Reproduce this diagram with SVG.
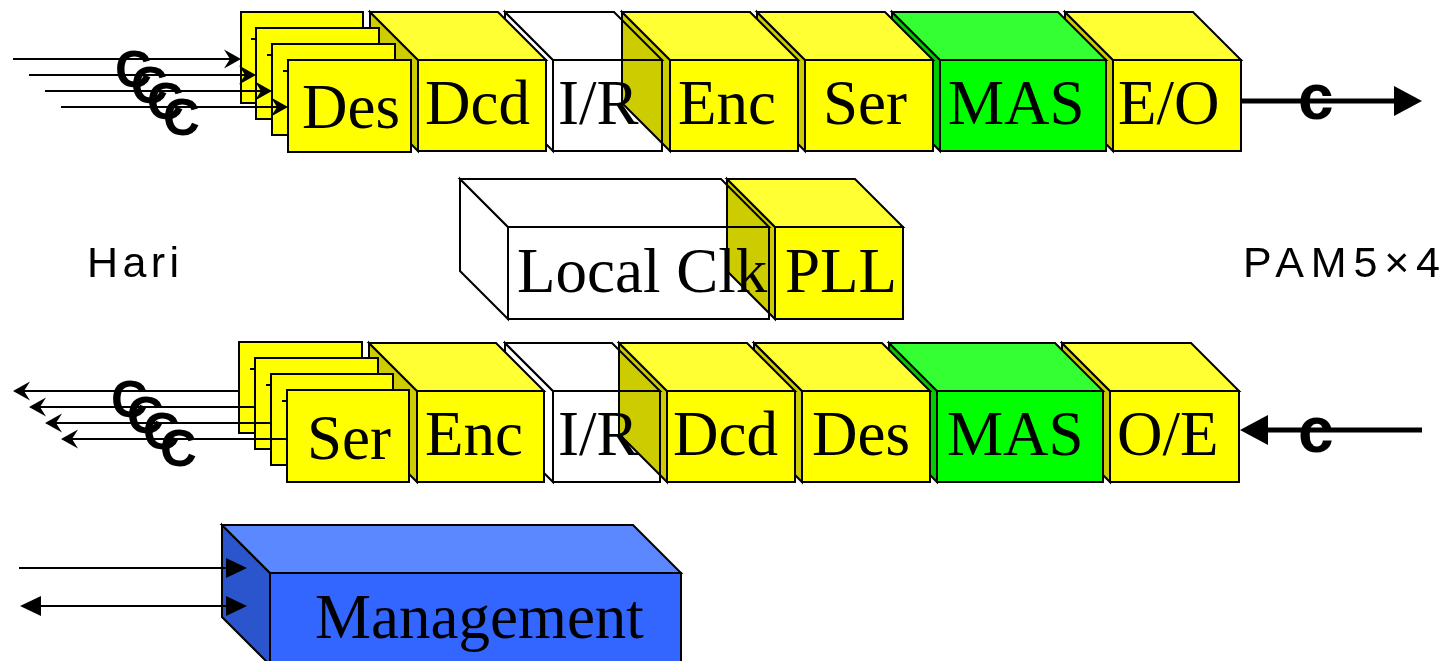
<svg xmlns="http://www.w3.org/2000/svg" width="1446" height="661" viewBox="0 0 1446 661">
  <style>
    .edge { stroke: #000; stroke-width: 2; stroke-linejoin: miter; }
    .yf { fill: #ffff00; }
    .yt { fill: #ffff33; }
    .ys { fill: #cccc00; }
    .gf { fill: #00ff00; }
    .gt { fill: #33ff33; }
    .gs { fill: #00cc00; }
    .wf { fill: #ffffff; }
    .bf { fill: #3366ff; }
    .bt { fill: #5b87ff; }
    .bs { fill: #2b55cc; }
    .through { mix-blend-mode: multiply; }
    .lbl { font-family: "Liberation Serif", "Times New Roman", serif; font-size: 63px; fill: #000; }
    .sig { font-family: "Liberation Sans", Arial, sans-serif; font-weight: bold; fill: #000; }
    .side { font-family: "Liberation Sans", Arial, sans-serif; font-size: 43px; fill: #000; }
    .thin { stroke: #000; stroke-width: 2; fill: none; }
    .thick { stroke: #000; stroke-width: 5; fill: none; }
  </style>
  <defs>
    <marker id="stealth" markerUnits="userSpaceOnUse" markerWidth="40" markerHeight="40" refX="0" refY="0" viewBox="-20 -20 40 40" orient="auto" overflow="visible">
      <path d="M11,0 L-6,-9.5 L0,0 L-6,9.5 Z" fill="#000"/>
    </marker>
    <marker id="tri" markerUnits="userSpaceOnUse" markerWidth="40" markerHeight="40" refX="0" refY="0" viewBox="-20 -20 40 40" orient="auto-start-reverse" overflow="visible">
      <path d="M21,0 L0,-10 L0,10 Z" fill="#000"/>
    </marker>
    <marker id="bigtri" markerUnits="userSpaceOnUse" markerWidth="60" markerHeight="60" refX="0" refY="0" viewBox="-30 -30 60 60" orient="auto" overflow="visible">
      <path d="M28,0 L0,-15 L0,15 Z" fill="#000"/>
    </marker>
  </defs>

  <rect x="0" y="0" width="1446" height="661" fill="#ffffff"/>

  <!-- transmit path (upper row), drawn right to left so each block overlaps its right neighbour -->
  <g id="tx-eo">
    <polygon class="edge ys" points="1065,12 1113,60 1113,151 1065,103"/>
    <polygon class="edge yt" points="1065,12 1193,12 1241,60 1113,60"/>
    <rect class="edge yf" x="1113" y="60" width="128" height="91"/>
    <text class="lbl" x="1118" y="124">E/O</text>
  </g>
  <g id="tx-mas">
    <polygon class="edge gs" points="892,12 940,60 940,151 892,103"/>
    <polygon class="edge gt" points="892,12 1058,12 1106,60 940,60"/>
    <rect class="edge gf" x="940" y="60" width="166" height="91"/>
    <text class="lbl" x="948" y="124">MAS</text>
  </g>
  <g id="tx-ser">
    <polygon class="edge ys" points="757,12 805,60 805,151 757,103"/>
    <polygon class="edge yt" points="757,12 885,12 933,60 805,60"/>
    <rect class="edge yf" x="805" y="60" width="128" height="91"/>
    <text class="lbl" x="823" y="124">Ser</text>
  </g>
  <g id="tx-ir">
    <polygon class="edge wf" points="505,12 553,60 553,151 505,103"/>
    <polygon class="edge wf" points="505,12 614,12 662,60 553,60"/>
    <rect class="edge wf" x="553" y="60" width="109" height="91"/>
    <text class="lbl" x="558" y="124">I/R</text>
  </g>
  <g id="tx-enc">
    <polygon class="edge ys through" points="622,12 670,60 670,151 622,103"/>
    <polygon class="edge yt" points="622,12 750,12 798,60 670,60"/>
    <rect class="edge yf" x="670" y="60" width="128" height="91"/>
    <text class="lbl" x="678" y="124">Enc</text>
  </g>
  <g id="tx-dcd">
    <polygon class="edge ys" points="370,12 418,60 418,151 370,103"/>
    <polygon class="edge yt" points="370,12 498,12 546,60 418,60"/>
    <rect class="edge yf" x="418" y="60" width="128" height="91"/>
    <text class="lbl" x="425" y="124">Dcd</text>
  </g>
  <g id="tx-des">
    <rect class="edge yf" x="241" y="12" width="122" height="91"/>
    <rect class="edge yf" x="256" y="28" width="123" height="91"/>
    <rect class="edge yf" x="272" y="44" width="123" height="91"/>
    <rect class="edge yf" x="288" y="60" width="123" height="92"/>
    <path class="thin" d="M251,39 H257 M267,55 H273 M283,71 H289"/>
    <text class="lbl" x="302" y="128">Des</text>
  </g>

  <!-- clocking -->
  <g id="local-clk">
    <polygon class="edge wf" points="460,179 508,227 508,319 460,271"/>
    <polygon class="edge wf" points="460,179 721,179 769,227 508,227"/>
    <rect class="edge wf" x="508" y="227" width="261" height="92"/>
    <text class="lbl" x="517" y="292">Local Clk</text>
  </g>
  <g id="pll">
    <polygon class="edge ys through" points="727,179 775,227 775,319 727,271"/>
    <polygon class="edge yt" points="727,179 855,179 903,227 775,227"/>
    <rect class="edge yf" x="775" y="227" width="128" height="92"/>
    <text class="lbl" x="785" y="292">PLL</text>
  </g>

  <!-- receive path (lower row) -->
  <g id="rx-oe">
    <polygon class="edge ys" points="1062,343 1110,391 1110,482 1062,434"/>
    <polygon class="edge yt" points="1062,343 1191,343 1239,391 1110,391"/>
    <rect class="edge yf" x="1110" y="391" width="129" height="91"/>
    <text class="lbl" x="1117" y="455">O/E</text>
  </g>
  <g id="rx-mas">
    <polygon class="edge gs" points="889,343 937,391 937,482 889,434"/>
    <polygon class="edge gt" points="889,343 1055,343 1103,391 937,391"/>
    <rect class="edge gf" x="937" y="391" width="166" height="91"/>
    <text class="lbl" x="947" y="455">MAS</text>
  </g>
  <g id="rx-des">
    <polygon class="edge ys" points="754,343 802,391 802,482 754,434"/>
    <polygon class="edge yt" points="754,343 882,343 930,391 802,391"/>
    <rect class="edge yf" x="802" y="391" width="128" height="91"/>
    <text class="lbl" x="812" y="455">Des</text>
  </g>
  <g id="rx-ir">
    <polygon class="edge wf" points="505,343 553,391 553,482 505,434"/>
    <polygon class="edge wf" points="505,343 612,343 660,391 553,391"/>
    <rect class="edge wf" x="553" y="391" width="107" height="91"/>
    <text class="lbl" x="558" y="455">I/R</text>
  </g>
  <g id="rx-dcd">
    <polygon class="edge ys through" points="619,343 667,391 667,482 619,434"/>
    <polygon class="edge yt" points="619,343 747,343 795,391 667,391"/>
    <rect class="edge yf" x="667" y="391" width="128" height="91"/>
    <text class="lbl" x="673" y="455">Dcd</text>
  </g>
  <g id="rx-enc">
    <polygon class="edge ys" points="369,343 417,391 417,482 369,434"/>
    <polygon class="edge yt" points="369,343 496,343 544,391 417,391"/>
    <rect class="edge yf" x="417" y="391" width="127" height="91"/>
    <text class="lbl" x="425" y="455">Enc</text>
  </g>
  <g id="rx-ser">
    <rect class="edge yf" x="239" y="342" width="123" height="91"/>
    <rect class="edge yf" x="255" y="358" width="123" height="91"/>
    <rect class="edge yf" x="271" y="374" width="122" height="91"/>
    <rect class="edge yf" x="287" y="390" width="122" height="92"/>
    <path class="thin" d="M250,369 H256 M266,385 H272 M282,401 H288"/>
    <text class="lbl" x="307" y="459">Ser</text>
  </g>

  <!-- management block -->
  <g id="management">
    <polygon class="edge bs" points="222,525 270,573 270,665 222,617"/>
    <polygon class="edge bt" points="222,525 633,525 681,573 270,573"/>
    <rect class="edge bf" x="270" y="573" width="411" height="92"/>
    <text class="lbl" x="315" y="638">Management</text>
  </g>

  <!-- side captions -->
  <g id="captions">
    <text class="side" x="87" y="277" textLength="92" lengthAdjust="spacing">Hari</text>
    <text class="side" x="1243" y="277" textLength="197" lengthAdjust="spacing">PAM5×4</text>
  </g>

  <!-- connectors -->
  <g id="connectors">
    <!-- parallel inputs -->
    <line class="thin" x1="13" y1="59" x2="230" y2="59" marker-end="url(#stealth)"/>
    <line class="thin" x1="29" y1="75" x2="245" y2="75" marker-end="url(#stealth)"/>
    <line class="thin" x1="45" y1="91" x2="261" y2="91" marker-end="url(#stealth)"/>
    <line class="thin" x1="61" y1="107" x2="277" y2="107" marker-end="url(#stealth)"/>
    <!-- parallel outputs -->
    <line class="thin" x1="239" y1="391" x2="24" y2="391" marker-end="url(#stealth)"/>
    <line class="thin" x1="255" y1="407" x2="40" y2="407" marker-end="url(#stealth)"/>
    <line class="thin" x1="271" y1="423" x2="56" y2="423" marker-end="url(#stealth)"/>
    <line class="thin" x1="287" y1="439" x2="72" y2="439" marker-end="url(#stealth)"/>
    <!-- line side -->
    <line class="thick" x1="1241" y1="101" x2="1394" y2="101" marker-end="url(#bigtri)"/>
    <line class="thick" x1="1422" y1="430" x2="1268" y2="430" marker-end="url(#bigtri)"/>
    <!-- management interface -->
    <line class="thin" x1="19" y1="568" x2="226" y2="568" marker-end="url(#tri)"/>
    <line class="thin" x1="41" y1="606" x2="226" y2="606" marker-start="url(#tri)" marker-end="url(#tri)"/>
  </g>

  <!-- signal marks on the links -->
  <g id="signal-marks">
    <text class="sig" font-size="51" x="115" y="87">C</text>
    <text class="sig" font-size="51" x="131" y="103">C</text>
    <text class="sig" font-size="51" x="147" y="119">C</text>
    <text class="sig" font-size="51" x="163" y="135">C</text>
    <text class="sig" font-size="51" x="111" y="417">C</text>
    <text class="sig" font-size="51" x="127" y="433">C</text>
    <text class="sig" font-size="51" x="143" y="449">C</text>
    <text class="sig" font-size="51" x="160" y="466">C</text>
    <text class="sig" font-size="64" x="1298" y="119">c</text>
    <text class="sig" font-size="64" x="1298" y="452">c</text>
  </g>
</svg>
